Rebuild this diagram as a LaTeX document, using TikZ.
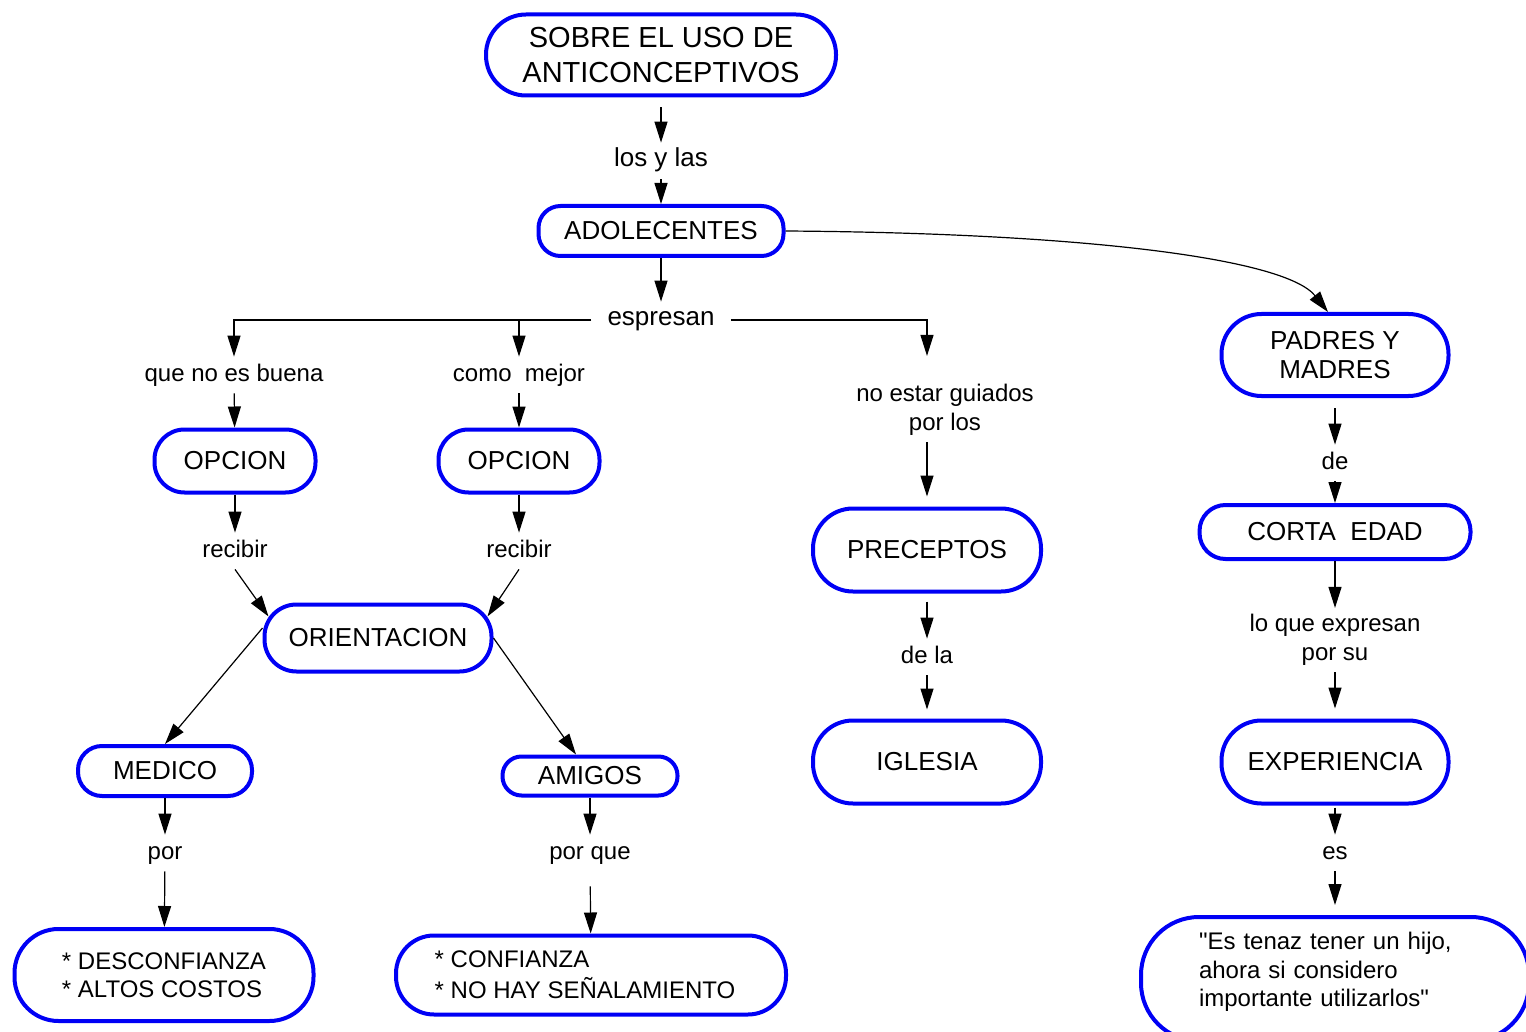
\documentclass[tikz,border=0pt]{standalone}
\usepackage{fontspec}
\setmainfont{Liberation Sans}
\usetikzlibrary{arrows.meta}
\definecolor{conceptblue}{RGB}{0,0,245}
\tikzset{
	concept/.style={draw=conceptblue, line width=2pt, rounded corners=#1, inner sep=0pt, align=center, font=\fontsize{13}{14.5}\selectfont},
	concept/.default=15pt,
	linkword/.style={inner xsep=8pt, inner ysep=3pt, text height=9pt, text depth=3pt, font=\fontsize{12}{14}\selectfont},
	linkwords/.style={inner xsep=8pt, inner ysep=3pt, align=center, font=\fontsize{12}{14.5}\selectfont},
	link/.style={-{Triangle[length=10.5pt,width=6.5pt]}, line width=0.6pt},
	plain/.style={line width=0.6pt}
}

\begin{document}
\begin{tikzpicture}[x=0.5pt, y=-0.5pt]
			%%%%% START %%%%%
			\useasboundingbox (0,0) rectangle (1526,1032);
			
			\node[concept=20pt, minimum width=175pt, minimum height=40.5pt, font=\fontsize{14.5}{17.5}\selectfont] (uso) at (661,55) {SOBRE EL USO DE\\ANTICONCEPTIVOS};
			\node[linkword, font=\fontsize{13}{15}\selectfont] (losylas) at (661,161) {los y las};
			\node[concept=11pt, minimum width=122.5pt, minimum height=25pt] (adol) at (661,231) {ADOLECENTES};
			\node[linkword, font=\fontsize{13}{15}\selectfont] (espresan) at (661,320) {espresan};
			
			\node[linkword] (nobuena) at (234,375) {que no es buena};
			\node[linkword] (mejor) at (519,375) {como\ \ mejor};
			\node[concept=15pt, minimum width=80.5pt, minimum height=31.5pt] (opcion1) at (235,461) {OPCION};
			\node[concept=15pt, minimum width=80.5pt, minimum height=31.5pt] (opcion2) at (519,461) {OPCION};
			\node[linkword] (recibir1) at (235,551) {recibir};
			\node[linkword] (recibir2) at (519,551) {recibir};
			\node[concept=16pt, minimum width=113.5pt, minimum height=33.5pt] (orient) at (378,638) {ORIENTACION};
			
			\node[concept=12pt, minimum width=87pt, minimum height=25pt] (medico) at (165,771) {MEDICO};
			\node[concept=9.5pt, minimum width=87.5pt, minimum height=19.5pt] (amigos) at (590,776) {AMIGOS};
			\node[linkword] (por) at (165,853) {por};
			\node[linkword] (porque) at (590,853) {por que};
			\node[concept=22pt, minimum width=149.5pt, minimum height=46pt, align=left, font=\fontsize{12}{14}\selectfont] (desc) at (164,975) {* DESCONFIANZA\\* ALTOS COSTOS};
			\node[concept=19pt, minimum width=195pt, minimum height=39.5pt, align=left, font=\fontsize{12}{15.5}\selectfont] (conf) at (591,975) {\hspace*{-6pt}* CONFIANZA\\\hspace*{-6pt}* NO HAY SEÑALAMIENTO};
			
			\node[linkwords] (guiados) at (945,410) {no estar guiados\\por los};
			\node[concept=20pt, minimum width=114pt, minimum height=41.5pt] (precep) at (927,550) {PRECEPTOS};
			\node[linkword] (dela) at (927,657) {de la};
			\node[concept=20pt, minimum width=114pt, minimum height=41.5pt] (iglesia) at (927,762) {IGLESIA};
			
			\node[concept=20pt, minimum width=113.5pt, minimum height=41pt] (padres) at (1335,355) {PADRES Y\\MADRES};
			\node[linkword] (de) at (1335,463) {de};
			\node[concept=13pt, minimum width=135.5pt, minimum height=27pt] (corta) at (1335,532) {CORTA\ \ EDAD};
			\node[linkwords] (loque) at (1335,640) {lo que expresan\\por su};
			\node[concept=20pt, minimum width=113.5pt, minimum height=41.5pt] (exper) at (1335,762) {EXPERIENCIA};
			\node[linkword] (es) at (1335,853) {es};
			\node[concept=29pt, minimum width=194pt, minimum height=62pt, text width=136pt, align=left, font=\fontsize{12}{14.25}\selectfont] (quote) at (1335,979) {\textquotedbl Es tenaz tener un hijo,\\ahora si considero\\importante utilizarlos\textquotedbl\\[-5pt]\mbox{}};
			
			% connectors
			\draw[link, shorten <=5pt] (uso) -- (losylas);
			\draw[link] (losylas) -- (adol);
			\draw[link] (adol) -- (espresan);
			\draw[link] (espresan.west) -| (nobuena.north);
			\draw[link] (espresan.west) -| (mejor.north);
			\draw[link] (espresan.east) -| ([xshift=-9pt,yshift=11pt]guiados.north);
			
			\draw[link] (nobuena) -- (opcion1);
			\draw[link] (mejor) -- (opcion2);
			\draw[link] (opcion1) -- (recibir1);
			\draw[link] (opcion2) -- (recibir2);
			\draw[link] (recibir1.south) -- ([xshift=3pt,yshift=-7pt]orient.north west);
			\draw[link] (recibir2.south) -- ([xshift=-3pt,yshift=-7pt]orient.north east);
			\draw[link] ([yshift=5pt]orient.west) -- (medico.north);
			\draw[link] (orient.east) -- ([xshift=-7pt]amigos.north);
			\draw[link] (medico) -- (por);
			\draw[link] (por) -- (desc);
			\draw[link] (amigos) -- (porque);
			\draw[link, shorten <=7.5pt] (porque) -- (conf);
			
			\draw[link, shorten >=5pt] ([xshift=-9pt]guiados.south) -- (precep.north);
			\draw[link, shorten <=4pt] (precep) -- (dela);
			\draw[link, shorten >=4.5pt] (dela) -- (iglesia);
			
			\draw[link] (adol.east) .. controls (1080,233) and (1285,258) .. ([xshift=-3.5pt]padres.north);
			\draw[link, shorten <=5pt] (padres) -- (de);
			\draw[link] (de) -- (corta);
			\draw[link] (corta) -- (loque);
			\draw[link, shorten >=5pt] (loque) -- (exper);
			\draw[link, shorten <=1pt] (exper) -- (es);
			\draw[link, shorten >=5pt] (es) -- (quote);
			
			%%%%% END %%%%%
\end{tikzpicture}
\end{document}
